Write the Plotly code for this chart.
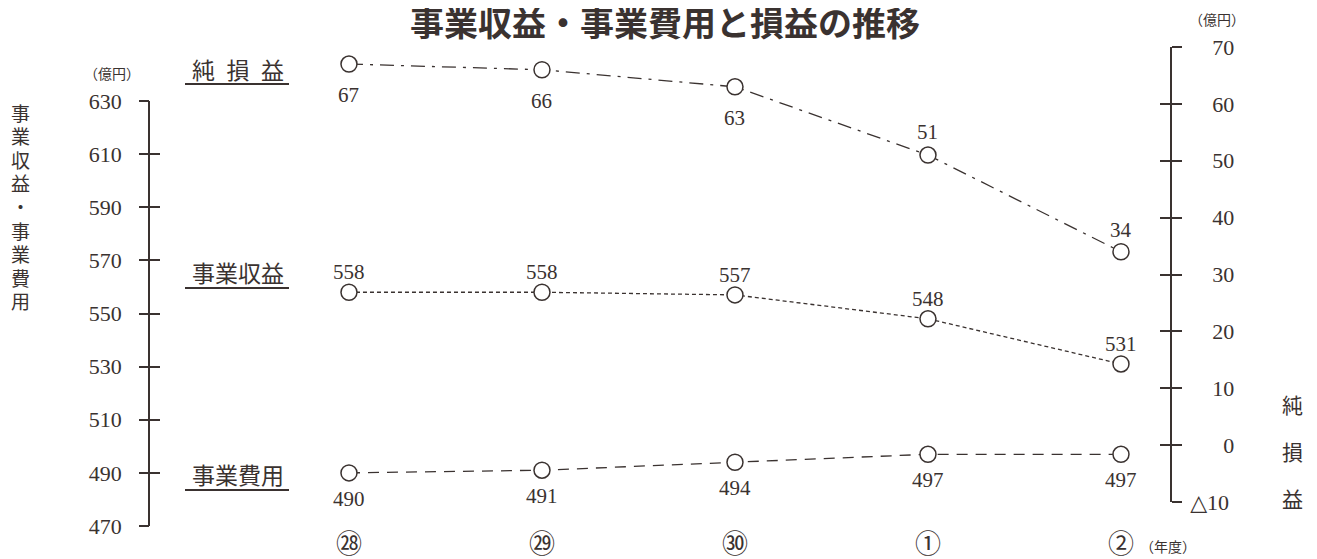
import plotly.graph_objects as go

# ---- data ----
years = ["㉘", "㉙", "㉚", "①", "②"]
net_income = [67, 66, 63, 51, 34]          # 純損益 (right axis)
revenue = [558, 558, 557, 548, 531]        # 事業収益 (left axis)
expense = [490, 491, 494, 497, 497]        # 事業費用 (left axis)
left_ticks = [470, 490, 510, 530, 550, 570, 590, 610, 630]
right_ticks = [-10, 0, 10, 20, 30, 40, 50, 60, 70]
right_tick_text = ["△10", "\u2003\u20070", "\u200310", "\u200320", "\u200330",
                   "\u200340", "\u200350", "\u200360", "\u200370"]

INK = "#3a3230"
SERIF = "Liberation Serif, DejaVu Serif, Noto Sans CJK JP, serif"
JP = "Noto Sans CJK JP, sans-serif"

OFF = 8  # page body margin
W, H = 1317 - OFF, 559 - OFF
ML, MR, MT, MB = 142, 17, 39, 33
PW = W - ML - MR
PH = H - MT - MB


def fx(px):  # screen px -> paper x
    return (px - OFF - ML) / PW


def fy(py):  # screen px -> paper y
    return (H - MB - (py - OFF)) / PH


num_font = dict(family=SERIF, size=21, color=INK)
marker = dict(symbol="circle", size=16, color="white", line=dict(color=INK, width=1.5))
ghost = dict(mode="markers", marker=dict(opacity=0, size=1), hoverinfo="skip", showlegend=False)

fig = go.Figure()
fig.add_trace(go.Scatter(
    x=years, y=revenue, xaxis="x", yaxis="y", mode="lines+markers",
    line=dict(color=INK, width=1.3, dash="4px,3px"), marker=marker, cliponaxis=False,
))
fig.add_trace(go.Scatter(
    x=years, y=expense, xaxis="x", yaxis="y", mode="lines+markers",
    line=dict(color=INK, width=1.3, dash="11px,8px"), marker=marker, cliponaxis=False,
))
fig.add_trace(go.Scatter(
    x=years, y=net_income, xaxis="x2", yaxis="y2", mode="lines+markers",
    line=dict(color=INK, width=1.3, dash="14px,7px,3px,7px"), marker=marker, cliponaxis=False,
))
# invisible helpers so the overlaid tick-only axes get drawn
fig.add_trace(go.Scatter(x=years, y=revenue, xaxis="x", yaxis="y3", **ghost))
fig.add_trace(go.Scatter(x=years, y=net_income, xaxis="x2", yaxis="y4", **ghost))

xdom = [0, fx(1170)]
xrange_ = [-1.031, 4.254]
left_dom = [0, fy(101)]
right_dom = [fy(502), 1]

common = dict(showgrid=False, zeroline=False, automargin=False)

fig.update_layout(
    width=W, height=H,
    margin=dict(l=ML, r=MR, t=MT, b=MB, autoexpand=False),
    paper_bgcolor="white", plot_bgcolor="rgba(0,0,0,0)",
    showlegend=False,
    title=dict(text="事業収益・事業費用と損益の推移", x=(665 - OFF) / W, xanchor="center",
               y=1 - (24 - OFF) / H, yanchor="middle", automargin=False,
               font=dict(family=JP, size=34, color=INK, weight="bold")),
    xaxis=dict(domain=xdom, type="category", range=xrange_, showline=False,
               ticks="", tickfont=dict(family=SERIF, size=26, color=INK),
               ticklabelstandoff=0, anchor="y", **common),
    xaxis2=dict(domain=xdom, type="category", range=xrange_, visible=False, anchor="y2",
                matches="x", **common),
    yaxis=dict(domain=left_dom, range=[470, 630], anchor="x", side="left",
               showline=True, linecolor=INK, linewidth=1.5,
               ticks="inside", ticklen=10, tickwidth=1.5, tickcolor=INK,
               tickvals=left_ticks, tickfont=dict(family=SERIF, size=22, color=INK),
               ticklabelstandoff=22, **common),
    yaxis3=dict(overlaying="y", range=[470, 630], anchor="x", side="left",
                showline=False, showticklabels=False,
                ticks="outside", ticklen=10, tickwidth=1.5, tickcolor=INK, tickvals=left_ticks,
                **common),
    yaxis2=dict(domain=right_dom, range=[-10, 70], anchor="x2", side="right",
                showline=True, linecolor=INK, linewidth=1.5,
                ticks="outside", ticklen=10, tickwidth=1.5, tickcolor=INK,
                tickvals=right_ticks, ticktext=right_tick_text,
                tickfont=dict(family=SERIF, size=22, color=INK),
                ticklabelstandoff=4, **common),
    yaxis4=dict(overlaying="y2", range=[-10, 70], anchor="x2", side="right",
                showline=False, showticklabels=False,
                ticks="inside", ticklen=10, tickwidth=1.5, tickcolor=INK, tickvals=right_ticks,
                **common),
)

annotations = []
# data labels (placed at the data points through the axes, shifted in pixels)
label_sets = [
    ("x", "y", revenue, [20, 20, 20, 20, 20]),
    ("x", "y", expense, [-26, -26, -26, -26, -26]),
    ("x2", "y2", net_income, [-31, -31, -31, 23, 22]),
]
for xr, yr, vals, shifts in label_sets:
    for xv, v, s in zip(years, vals, shifts):
        annotations.append(dict(text=str(v), x=xv, y=v, xref=xr, yref=yr, yshift=s,
                                xanchor="center", yanchor="middle", showarrow=False,
                                font=num_font))

# series labels with underlines
series_labels = [("純\u2002損\u2002益", 69, 84), ("事業収益", 272, 288), ("事業費用", 474, 490)]
shapes = []
for text, yc, yu in series_labels:
    annotations.append(dict(text=text, x=fx(238), y=fy(yc), xref="paper", yref="paper",
                            xanchor="center", yanchor="middle", showarrow=False,
                            font=dict(family=JP, size=23, color=INK)))
    shapes.append(dict(type="line", xref="paper", yref="paper", x0=fx(185), x1=fx(289),
                       y0=fy(yu), y1=fy(yu), line=dict(color=INK, width=2)))

# left vertical axis title
for i, ch in enumerate("事業収益・事業費用"):
    annotations.append(dict(text=ch, x=fx(20), y=fy(112 + i * 23.6), xref="paper", yref="paper",
                            xanchor="center", yanchor="middle", showarrow=False,
                            font=dict(family=JP, size=19, color=INK)))
# right vertical axis title
for i, ch in enumerate("純損益"):
    annotations.append(dict(text=ch, x=fx(1292), y=fy(404 + i * 47), xref="paper", yref="paper",
                            xanchor="center", yanchor="middle", showarrow=False,
                            font=dict(family=JP, size=21, color=INK)))
# units
annotations.append(dict(text="（億円）", x=fx(112), y=fy(73), xref="paper", yref="paper",
                        xanchor="center", yanchor="middle", showarrow=False,
                        font=dict(family=JP, size=14, color=INK)))
annotations.append(dict(text="（億円）", x=fx(1217), y=fy(19), xref="paper", yref="paper",
                        xanchor="center", yanchor="middle", showarrow=False,
                        font=dict(family=JP, size=14, color=INK)))
annotations.append(dict(text="（年度）", x=fx(1168), y=fy(546), xref="paper", yref="paper",
                        xanchor="center", yanchor="middle", showarrow=False,
                        font=dict(family=JP, size=14, color=INK)))

fig.update_layout(annotations=annotations, shapes=shapes)
fig.write_html("out.html")
